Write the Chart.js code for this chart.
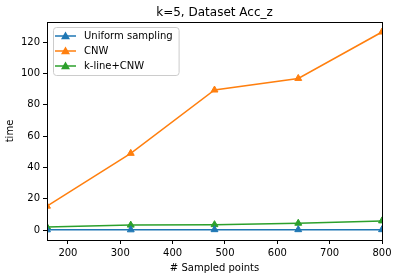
<!DOCTYPE html>
<html>
<head>
<meta charset="utf-8">
<script src="https://cdn.jsdelivr.net/npm/chart.js@4.4.1/dist/chart.umd.min.js"></script>
<style>
  html, body { margin: 0; padding: 0; background: #fff; }
  #wrap { width: 398px; height: 278px; position: relative; }
</style>
</head>
<body>
<div id="wrap"><canvas id="timeChart"></canvas></div>
<script>
// ========== DATA ==========
var sampledPoints = [160, 320, 480, 640, 800];
var uniformTime = [0.2, 0.2, 0.3, 0.3, 0.3];
var cnwTime = [15.3, 49.0, 89.4, 96.8, 126.4];
var klineTime = [2.0, 3.2, 3.5, 4.4, 5.9];
var xTicks = [200, 300, 400, 500, 600, 700, 800];
var yTicks = [0, 20, 40, 60, 80, 100, 120];

Chart.defaults.font.family = "'DejaVu Sans', sans-serif";
Chart.defaults.font.size = 10;
Chart.defaults.color = "#000";

function toPoints(values) {
  return sampledPoints.map(function (x, i) { return { x: x, y: values[i] }; });
}

function series(label, values, color) {
  return {
    label: label,
    data: toPoints(values),
    borderColor: color,
    backgroundColor: color,
    borderWidth: 1.5,
    pointStyle: "triangle",
    pointRadius: 4,
    pointHoverRadius: 4,
    pointBorderWidth: 1,
    tension: 0,
    clip: 0
  };
}

// ========== FRAME + LEGEND INSIDE AXES ==========
var framePlugin = {
  id: "frame",
  afterDraw: function (chart) {
    var ctx = chart.ctx;
    var a = chart.chartArea;
    ctx.save();
    ctx.strokeStyle = "#000";
    ctx.lineWidth = 1;
    ctx.strokeRect(Math.round(a.left) + 0.5, Math.round(a.top) + 0.5,
      Math.round(a.right - a.left), Math.round(a.bottom - a.top));

    // legend box (upper left, like matplotlib)
    ctx.font = "10px 'DejaVu Sans', sans-serif";
    var sets = chart.data.datasets;
    var maxW = 0;
    sets.forEach(function (d) { maxW = Math.max(maxW, ctx.measureText(d.label).width); });
    var bx = a.left + 6, by = a.top + 5;
    var textX = a.left + 37;
    var bw = textX + maxW + 6 - bx, bh = 48;
    ctx.fillStyle = "rgba(255,255,255,0.8)";
    ctx.strokeStyle = "#cccccc";
    ctx.beginPath();
    ctx.roundRect(bx + 0.5, by + 0.5, bw, bh, 3);
    ctx.fill();
    ctx.stroke();
    sets.forEach(function (d, i) {
      var y = by + 9 + i * 15;
      ctx.strokeStyle = d.borderColor;
      ctx.lineWidth = 1.5;
      ctx.beginPath();
      ctx.moveTo(a.left + 8, y);
      ctx.lineTo(a.left + 29, y);
      ctx.stroke();
      ctx.fillStyle = d.borderColor;
      ctx.beginPath();
      var mx = a.left + 18.5, r = 4.5;
      ctx.moveTo(mx, y - r);
      ctx.lineTo(mx + r, y + r * 0.7);
      ctx.lineTo(mx - r, y + r * 0.7);
      ctx.closePath();
      ctx.fill();
      ctx.fillStyle = "#000";
      ctx.textBaseline = "middle";
      ctx.fillText(d.label, textX, y);
    });
    ctx.restore();
  }
};

new Chart(document.getElementById("timeChart"), {
  type: "line",
  data: {
    datasets: [
      series("Uniform sampling", uniformTime, "#1f77b4"),
      series("CNW", cnwTime, "#ff7f0e"),
      series("k-line+CNW", klineTime, "#2ca02c")
    ]
  },
  options: {
    responsive: true,
    maintainAspectRatio: false,
    animation: false,
    layout: { padding: { left: 0, right: 16, top: 0, bottom: 0 } },
    plugins: {
      legend: { display: false },
      tooltip: { enabled: false },
      title: {
        display: true,
        text: "k=5, Dataset Acc_z",
        fullSize: false,
        color: "#000",
        font: { size: 12, weight: "normal" },
        padding: { top: 6, bottom: 1.6 }
      }
    },
    scales: {
      x: {
        type: "linear",
        min: 160,
        max: 800,
        afterBuildTicks: function (scale) {
          scale.ticks = xTicks.map(function (v) { return { value: v }; });
        },
        afterFit: function (scale) { scale.height = 38; },
        grid: { display: true, drawOnChartArea: false, tickLength: 4, color: "#000" },
        border: { display: true, color: "#000" },
        ticks: { padding: 3, maxRotation: 0, color: "#000" },
        title: { display: true, text: "# Sampled points", color: "#000", padding: { top: 2, bottom: 4 } }
      },
      y: {
        type: "linear",
        min: -6.3,
        max: 132.8,
        afterBuildTicks: function (scale) {
          scale.ticks = yTicks.map(function (v) { return { value: v }; });
        },
        afterFit: function (scale) { scale.width = 47; },
        grid: { display: true, drawOnChartArea: false, tickLength: 4, color: "#000" },
        border: { display: true, color: "#000" },
        ticks: { padding: 3, color: "#000" },
        title: { display: true, text: "time", color: "#000", padding: { top: 4, bottom: 2 } }
      }
    }
  },
  plugins: [framePlugin]
});
</script>
</body>
</html>
